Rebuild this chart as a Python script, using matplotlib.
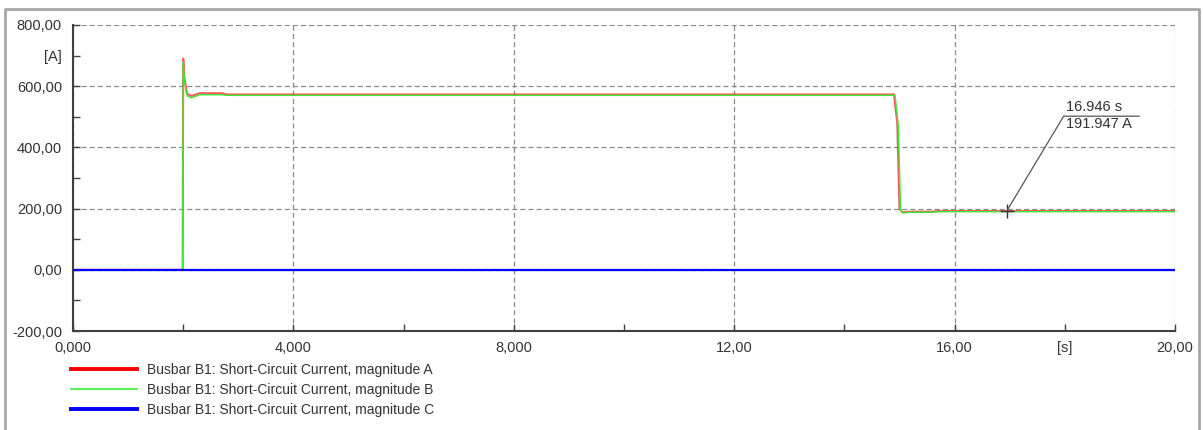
import numpy as np
import matplotlib.pyplot as plt
from matplotlib.lines import Line2D

plt.rcParams['font.family'] = ['Liberation Sans', 'DejaVu Sans']

# Short-circuit current at busbar B1, phases A/B/C
t_a = [0.0, 1.99, 2.00, 2.02, 2.07, 2.15, 2.30, 2.70, 2.80, 14.90, 14.96, 15.00, 15.05, 15.20, 15.60, 15.70, 20.0]
i_a = [0.0, 0.0, 690.0, 630.0, 575.0, 568.0, 577.0, 577.0, 573.0, 573.0, 480.0, 200.0, 188.0, 190.0, 190.0, 192.0, 192.0]

t_b = [0.0, 1.99, 2.00, 2.02, 2.07, 2.15, 2.30, 2.70, 2.80, 14.92, 14.98, 15.02, 15.07, 15.20, 15.60, 15.70, 20.0]
i_b = [0.0, 0.0, 680.0, 620.0, 568.0, 562.0, 572.0, 572.0, 570.0, 570.0, 470.0, 195.0, 186.0, 188.0, 188.0, 190.0, 190.0]

t_c = [0.0, 20.0]
i_c = [0.0, 0.0]

labels = ['Busbar B1: Short-Circuit Current, magnitude A',
          'Busbar B1: Short-Circuit Current, magnitude B',
          'Busbar B1: Short-Circuit Current, magnitude C']

cursor_t = 16.946
cursor_i = 191.947

x_major = [0, 4, 8, 12, 16, 20]
x_major_lbl = ['0,000', '4,000', '8,000', '12,00', '16,00', '20,00']
x_minor = [2, 6, 10, 14, 18]
y_major = [-200, 0, 200, 400, 600, 800]
y_minor = [-100, 100, 300, 500, 700]

fig = plt.figure(figsize=(12.03, 4.30), dpi=100)
ax = fig.add_axes([0.0607, 0.2302, 0.9160, 0.7117])

# outer frame of the plot window
fig.add_artist(Line2D([0.0045, 0.0045, 0.9965, 0.9965], [0.0, 0.979, 0.979, 0.0],
                      color='#a8a8a8', lw=2, transform=fig.transFigure))

ax.plot(t_a, i_a, color='#ff3030', lw=1.5, alpha=0.8, zorder=4)
ax.plot(t_b, i_b, color='#33ee33', lw=1.0, zorder=5)
ax.plot(t_c, i_c, color='#0000ff', lw=1.6, zorder=6)

ax.set_xlim(0, 20)
ax.set_ylim(-200, 800)

ax.set_xticks(x_major)
ax.set_xticklabels(x_major_lbl)
ax.set_xticks(x_minor, minor=True)
ax.set_xticklabels(['', '', '', '', '[s]'], minor=True)
ax.set_yticks(y_major)
ax.set_yticklabels([f'{v:.2f}'.replace('.', ',') for v in y_major])
ax.set_yticks(y_minor, minor=True)
ax.set_yticklabels(['', '', '', '', '[A]'], minor=True)

ax.tick_params(which='both', direction='in', length=5, width=1, color='#404040',
               labelsize=10.5, labelcolor='#333333')
ax.tick_params(axis='y', which='both', pad=8)
ax.tick_params(axis='x', which='both', pad=7)
ax.grid(True, which='major', color='#8a8a8a', ls=(0, (4, 2.5)), lw=0.9)
for s in ['top', 'right']:
    ax.spines[s].set_visible(False)
for s in ['left', 'bottom']:
    ax.spines[s].set_color('#404040')
    ax.spines[s].set_linewidth(1.5)

# cursor readout
lx, ly = 17.98, 502
ax.plot([cursor_t], [cursor_i], marker='+', ms=10, mew=1, color='#333333', zorder=7)
ax.plot([cursor_t, lx, 19.35], [cursor_i, ly, ly], color='#555555', lw=0.9, zorder=7)
ax.text(lx + 0.05, ly + 6, f'{cursor_t:.3f} s', fontsize=10.5, color='#333333', va='bottom')
ax.text(lx + 0.05, ly - 4, f'{cursor_i:.3f} A', fontsize=10.5, color='#333333', va='top')

handles = [Line2D([], [], color='#ff0000', lw=2.8),
           Line2D([], [], color='#33ee33', lw=1.2),
           Line2D([], [], color='#0000ff', lw=2.8)]
fig.legend(handles, labels, loc='upper left', bbox_to_anchor=(0.053, 0.173),
           frameon=False, fontsize=10, handlelength=4.8, handletextpad=0.7,
           labelspacing=0.45, borderpad=0, labelcolor='#333333')

fig.savefig('out.png', dpi=100)
